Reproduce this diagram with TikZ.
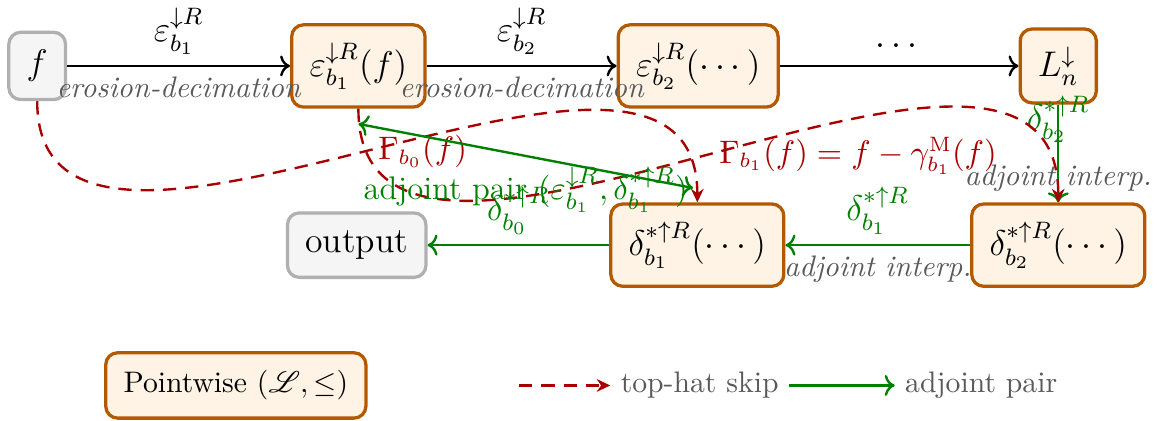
\documentclass[tikz,border=0pt]{standalone}
\usepackage{amsmath,amssymb}
\usepackage{mathrsfs}
\usepackage{xcolor}
\definecolor{cLat}{HTML}{B35900}
\definecolor{cLatFill}{HTML}{FFF3E6}
\definecolor{cIO}{HTML}{B0B0B0}
\definecolor{cIOFill}{HTML}{F5F5F5}
\definecolor{cSkip}{HTML}{A80000}
\definecolor{cAdj}{HTML}{008000}
\definecolor{cGray}{HTML}{595959}
\usepackage{tikz}
\usetikzlibrary{positioning,arrows.meta,calc}
\tikzset{
  node-box/.style={draw,line width=1.1pt,rounded corners=4pt,inner sep=6pt,
    minimum height=7.5mm,align=center},
  node-lat/.style={draw=cLat,fill=cLatFill},
  node-io/.style={draw=cIO,fill=cIOFill},
  arrow/.style={->,thick,draw=black},
  arrow-adj/.style={->,thick,draw=cAdj},
  arrow-pair/.style={<->,thick,draw=cAdj},
  % skip connections: dashed dark red
  arrow-skip/.style={-{Stealth[length=1.6mm,width=1.5mm]},thick,
    draw=cSkip,dash pattern=on 4.5pt off 3pt},
  lbl-op/.style={font=\normalsize\itshape,text=cGray},
  lbl-adj/.style={text=cAdj},
  lbl-skip/.style={text=cSkip,font=\fontsize{10.7}{13}\selectfont},
  legend-text/.style={font=\normalsize,text=cGray},
}

\begin{document}
\begin{tikzpicture}[font=\large]
  \useasboundingbox (0,0) rectangle (13.70,-4.98);
  % analysis row
  \node[node-box,node-io]  (f)  at (0.44,-0.78) {$f$};
  \node[node-box,node-lat] (e1) at (4.24,-0.78) {$\varepsilon^{\downarrow R}_{b_1}(f)$};
  \node[node-box,node-lat] (e2) at (8.26,-0.78) {$\varepsilon^{\downarrow R}_{b_2}(\cdots)$};
  \node[node-box,node-lat] (Ln) at (12.52,-0.78) {$L^{\downarrow}_{n}$};
  % synthesis row
  \node[node-box,node-io]  (out) at (4.22,-2.90) {output};
  \node[node-box,node-lat] (d1)  at (8.25,-2.90) {$\delta^{*\uparrow R}_{b_1}(\cdots)$};
  \node[node-box,node-lat] (d2)  at (12.52,-2.90) {$\delta^{*\uparrow R}_{b_2}(\cdots)$};

  \draw[arrow] (f) -- node[above] {$\varepsilon^{\downarrow R}_{b_1}$}
    node[below,lbl-op] {erosion-decimation} (e1);
  \draw[arrow] (e1) -- node[above] {$\varepsilon^{\downarrow R}_{b_2}$}
    node[below,lbl-op] {erosion-decimation} (e2);
  \draw[arrow] (e2) -- node[above] {$\cdots$} (Ln);
  \draw[arrow-adj] (Ln) -- node[above,lbl-adj] {$\delta^{*\uparrow R}_{b_2}$}
    node[below,lbl-op] {adjoint interp.} (d2);
  \draw[arrow-adj] (d2) -- node[above,lbl-adj] {$\delta^{*\uparrow R}_{b_1}$}
    node[below,lbl-op] {adjoint interp.} (d1);
  \draw[arrow-adj] (d1) -- node[above,lbl-adj] {$\delta^{*\uparrow R}_{b_0}$} (out);

  % top-hat skips
  \draw[arrow-skip] (f.south) to[out=-90,in=90]
    node[right,lbl-skip] {$\Gamma_{b_0}(f)$} (d1.north);
  \draw[arrow-skip] (e1.south) to[out=-90,in=90]
    node[right,lbl-skip] {$\Gamma_{b_1}(f)=f-\gamma^{\mathrm{M}}_{b_1}(f)$} (d2.north);

  % adjoint pair
  \coordinate (pair-a) at ($(e1.south)+(0,-0.18)$);
  \coordinate (pair-b) at ($(d1.north)+(-0.05,0.17)$);
  \draw[arrow-pair] (pair-a) -- node[below,lbl-adj,font=\fontsize{11}{13}\selectfont]
    {adjoint pair $(\varepsilon^{\downarrow R}_{b_1},\delta^{*\uparrow R}_{b_1})$} (pair-b);

  % legend
  \node[node-box,node-lat,font=\normalsize] (lat) at (2.79,-4.56) {Pointwise $(\mathscr{L},\leq)$};
  \coordinate (skip-a) at (6.14,-4.56);
  \node[legend-text,right=1.08cm of skip-a] (skip-t) {top-hat skip};
  \node[legend-text,right=1.25cm of skip-t] (adj-t) {adjoint pair};
  \draw[arrow-skip] (skip-a) -- (skip-t);
  \draw[arrow-adj] (skip-t) -- (adj-t);
\end{tikzpicture}
\end{document}
